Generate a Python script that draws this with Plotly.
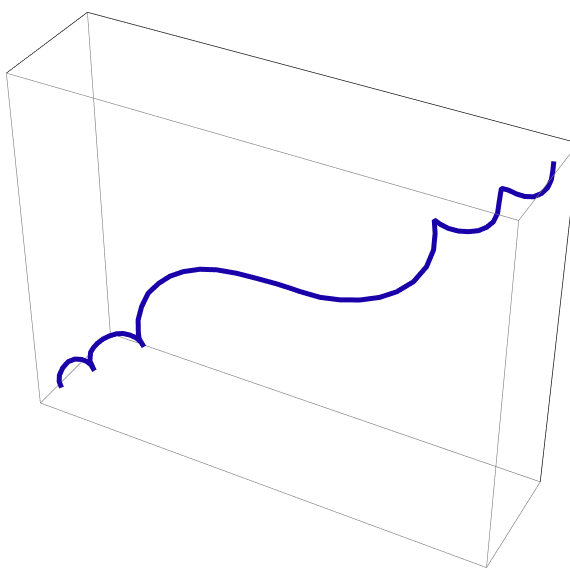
import plotly.graph_objects as go

# curve, in box fractions (x along the long side, y depth, z height)
x_vals = [0.029, 0.025, 0.027, 0.036, 0.049, 0.064, 0.079, 0.090, 0.098, 0.104, 0.096, 0.099, 0.106, 0.115, 0.128,
          0.143, 0.157, 0.171, 0.185, 0.197, 0.207, 0.213, 0.204, 0.203, 0.204, 0.213, 0.228, 0.250, 0.274, 0.301,
          0.334, 0.367, 0.406, 0.445, 0.484, 0.509, 0.529, 0.567, 0.605, 0.643, 0.680, 0.711, 0.741, 0.763, 0.774,
          0.775, 0.772, 0.783, 0.798, 0.816, 0.834, 0.851, 0.865, 0.876, 0.882, 0.883, 0.884, 0.885, 0.897, 0.912,
          0.926, 0.941, 0.954, 0.963, 0.968, 0.969, 0.969]
y_vals = [0.143, 0.140, 0.141, 0.148, 0.159, 0.171, 0.183, 0.192, 0.198, 0.203, 0.197, 0.199, 0.204, 0.212, 0.223,
          0.234, 0.246, 0.257, 0.268, 0.278, 0.285, 0.290, 0.283, 0.282, 0.284, 0.290, 0.303, 0.320, 0.339, 0.361,
          0.387, 0.414, 0.445, 0.476, 0.507, 0.528, 0.543, 0.574, 0.604, 0.634, 0.664, 0.689, 0.712, 0.731, 0.739,
          0.740, 0.738, 0.746, 0.758, 0.773, 0.787, 0.801, 0.812, 0.821, 0.825, 0.826, 0.827, 0.828, 0.838, 0.850,
          0.861, 0.872, 0.883, 0.891, 0.894, 0.895, 0.895]
z_vals = [0.032, 0.051, 0.074, 0.102, 0.126, 0.139, 0.142, 0.138, 0.129, 0.112, 0.142, 0.172, 0.189, 0.206, 0.224,
          0.239, 0.249, 0.254, 0.253, 0.248, 0.238, 0.223, 0.246, 0.264, 0.307, 0.352, 0.398, 0.434, 0.463, 0.484,
          0.500, 0.507, 0.507, 0.502, 0.496, 0.490, 0.485, 0.478, 0.481, 0.491, 0.509, 0.534, 0.572, 0.621, 0.672,
          0.719, 0.756, 0.747, 0.739, 0.736, 0.739, 0.746, 0.759, 0.777, 0.802, 0.829, 0.852, 0.870, 0.868, 0.861,
          0.858, 0.861, 0.873, 0.890, 0.912, 0.934, 0.961]

x_range = [0, 1]
y_range = [0, 1]
z_range = [0, 1]

box_ratio = dict(x=1, y=0.2666, z=0.7795)
fovy = 0.31033  # narrow lens, like the reference's view angle


def edge(p, q, col, w):
    return go.Scatter3d(x=[p[0], q[0]], y=[p[1], q[1]], z=[p[2], q[2]], mode='lines',
                        line=dict(color=col, width=w), showlegend=False, hoverinfo='skip')


x0, x1 = x_range
y0, y1 = y_range
z0, z1 = z_range
# outer edges drawn dark, the rest grey
dark = [((x0, y0, z1), (x0, y1, z1)), ((x0, y1, z1), (x1, y1, z1)), ((x1, y1, z1), (x1, y1, z0))]
grey = [((x0, y0, z1), (x1, y0, z1)), ((x0, y0, z1), (x0, y0, z0)), ((x0, y1, z1), (x0, y1, z0)),
        ((x1, y0, z1), (x1, y0, z0)), ((x1, y0, z1), (x1, y1, z1)), ((x0, y0, z0), (x0, y1, z0)),
        ((x0, y1, z0), (x1, y1, z0)), ((x0, y0, z0), (x1, y0, z0)), ((x1, y0, z0), (x1, y1, z0))]

fig = go.Figure()
for p, q in dark:
    fig.add_trace(edge(p, q, '#111111', 1.4))
for p, q in grey:
    fig.add_trace(edge(p, q, '#7a7a7a', 1.2))
fig.add_trace(go.Scatter3d(x=x_vals, y=y_vals, z=z_vals, mode='lines',
                           line=dict(color='#1a00a8', width=10), showlegend=False))

ax = dict(visible=False)
fig.update_layout(
    width=570, height=568, margin=dict(l=0, r=0, t=0, b=0), paper_bgcolor='white',
    scene=dict(
        xaxis=dict(ax, range=x_range), yaxis=dict(ax, range=y_range), zaxis=dict(ax, range=z_range),
        aspectmode='manual', aspectratio=box_ratio,
        camera=dict(eye=dict(x=1.3120, y=-2.4321, z=2.0287),
                    center=dict(x=0.0013, y=0.0026, z=0.0022),
                    up=dict(x=-0.2808, y=0.5202, z=0.8066),
                    projection=dict(type='perspective')),
    ),
)

js = ("document.body.style.margin='0';document.documentElement.style.overflow='hidden';"
      "var gd=document.getElementById('{plot_id}');var g=gd._fullLayout.scene._scene.glplot;"
      "g.fovy=%f;if(g.redraw){g.redraw();}" % fovy)
fig.write_html("out.html", config={'displayModeBar': False}, post_script=js)
